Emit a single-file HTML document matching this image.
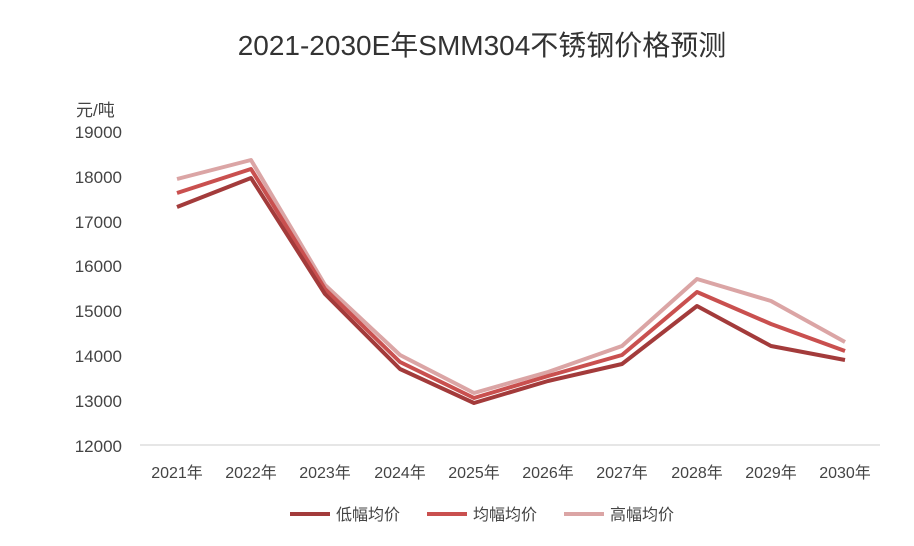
<!DOCTYPE html>
<html><head><meta charset="utf-8"><style>
body{margin:0;background:#fff;}
svg text{font-family:"Liberation Sans","Noto Sans CJK SC",sans-serif;}
</style></head><body>
<svg width="914" height="541" viewBox="0 0 914 541" xmlns="http://www.w3.org/2000/svg">
<rect width="914" height="541" fill="#fff"/>
<text x="482" y="55" text-anchor="middle" font-size="28" fill="#333">2021-2030E年SMM304不锈钢价格预测</text>
<text x="76" y="116" font-size="17" fill="#444">元/吨</text>
<g font-size="17" fill="#444" text-anchor="end">
<text x="122" y="138">19000</text>
<text x="122" y="183">18000</text>
<text x="122" y="228">17000</text>
<text x="122" y="272">16000</text>
<text x="122" y="317">15000</text>
<text x="122" y="362">14000</text>
<text x="122" y="407">13000</text>
<text x="122" y="452">12000</text>
</g>
<line x1="140" y1="445" x2="880" y2="445" stroke="#ccc" stroke-width="1"/>
<g font-size="16" fill="#444" text-anchor="middle">
<text x="177" y="478">2021年</text><text x="251" y="478">2022年</text><text x="325" y="478">2023年</text><text x="400" y="478">2024年</text><text x="474" y="478">2025年</text><text x="548" y="478">2026年</text><text x="622" y="478">2027年</text><text x="697" y="478">2028年</text><text x="771" y="478">2029年</text><text x="845" y="478">2030年</text>
</g>
<g fill="none" stroke-width="4" stroke-linejoin="round">
<polyline stroke="#dba5a5" points="177,179 251,160 325,285 400,355 474,393 548,372 622,346 697,279 771,301 845,342"/>
<polyline stroke="#c9504f" points="177,193 251,169 325,289 400,362 474,398 548,376 622,355 697,292 771,324 845,351"/>
<polyline stroke="#a33b3b" points="177,207 251,178 325,294 400,369 474,403 548,381 622,364 697,306 771,346 845,360"/>
</g>
<g font-size="16" fill="#444">
<line x1="290" y1="514" x2="330" y2="514" stroke="#a33b3b" stroke-width="4"/><text x="336" y="520">低幅均价</text>
<line x1="427" y1="514" x2="467" y2="514" stroke="#c9504f" stroke-width="4"/><text x="473" y="520">均幅均价</text>
<line x1="564" y1="514" x2="604" y2="514" stroke="#dba5a5" stroke-width="4"/><text x="610" y="520">高幅均价</text>
</g>
</svg>
</body></html>
